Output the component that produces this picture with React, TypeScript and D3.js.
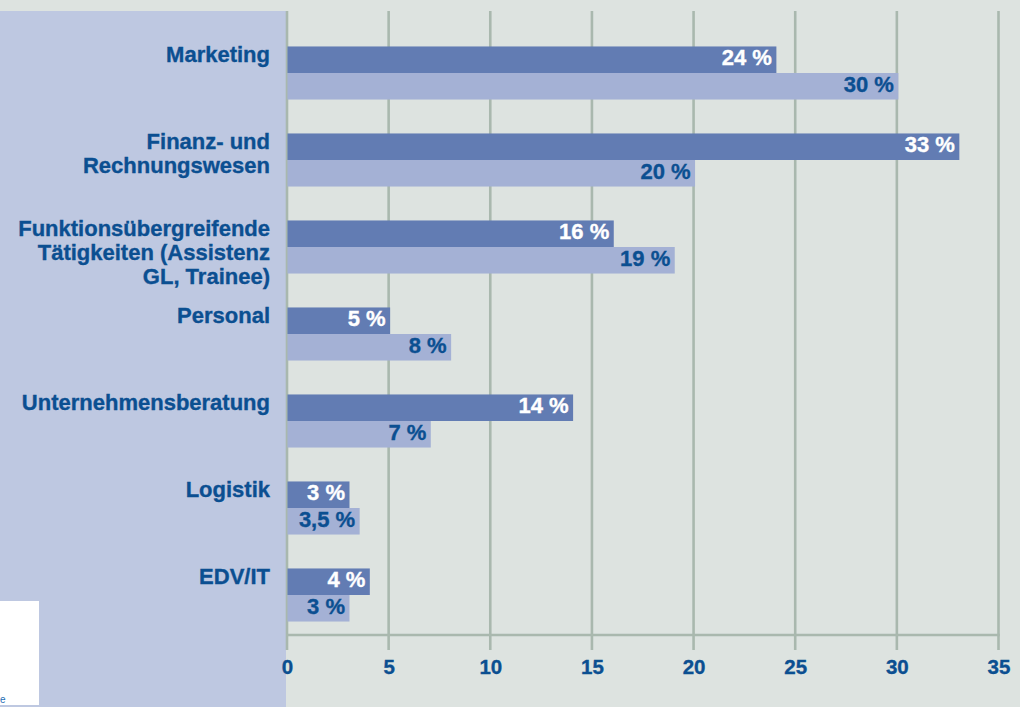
import React, { useEffect, useRef } from "react";
import * as d3 from "d3";

const categories = [
  ["Marketing"],
  ["Finanz- und", "Rechnungswesen"],
  ["Funktionsübergreifende", "Tätigkeiten (Assistenz", "GL, Trainee)"],
  ["Personal"],
  ["Unternehmensberatung"],
  ["Logistik"],
  ["EDV/IT"],
];
const seriesA = [24, 33, 16, 5, 14, 3, 4];
const seriesB = [30, 20, 19, 8, 7, 3.5, 3];
const xTicks = [0, 5, 10, 15, 20, 25, 30, 35];

const App = () => {
  const svgRef = useRef(null);

  useEffect(() => {
    const width = 1020;
    const height = 707;
    const textColor = "#0b4f91";
    const gridColor = "#a9b8ae";
    const font = "'Liberation Sans', Arial, sans-serif";

    const svg = d3.select(svgRef.current).attr("width", width).attr("height", height);
    svg.selectAll("*").remove();

    const x = d3.scaleLinear().domain([0, 35]).range([287.5, 999]);
    const keys = categories.map((c) => c.join(" "));
    const y = d3.scaleBand().domain(keys).range([29.5, 638.5]).paddingInner(0.39).paddingOuter(0.195);
    const inner = d3.scaleBand().domain(["a", "b"]).range([0, y.bandwidth()]);

    svg.append("rect").attr("width", width).attr("height", height).attr("fill", "#dde3e0");
    svg.append("rect").attr("x", 0).attr("y", 11).attr("width", 286).attr("height", height - 11).attr("fill", "#bec8e1");
    svg.append("rect").attr("x", 0).attr("y", 601).attr("width", 39).attr("height", 104).attr("fill", "#ffffff");
    svg
      .append("text")
      .attr("x", 0)
      .attr("y", 703)
      .attr("fill", "#1f6fb5")
      .style("font-family", font)
      .style("font-size", "10px")
      .text("e");

    // gridlines + ticks
    svg
      .selectAll(".grid")
      .data(xTicks)
      .join("line")
      .attr("x1", (d) => x(d) - 0.5)
      .attr("x2", (d) => x(d) - 0.5)
      .attr("y1", 11)
      .attr("y2", 650)
      .attr("stroke", gridColor)
      .attr("stroke-width", 2.6);

    svg
      .append("line")
      .attr("x1", x(0) - 1.5)
      .attr("x2", x(35) + 0.8)
      .attr("y1", 635)
      .attr("y2", 635)
      .attr("stroke", gridColor)
      .attr("stroke-width", 2.6);

    svg
      .selectAll(".tick")
      .data(xTicks)
      .join("text")
      .attr("x", (d) => x(d))
      .attr("y", 674)
      .attr("text-anchor", "middle")
      .attr("fill", textColor)
      .attr("stroke", textColor)
      .attr("stroke-width", 0.35)
      .style("font-family", font)
      .style("font-size", "20.5px")
      .style("font-weight", "bold")
      .text((d) => d);

    const rows = categories.map((c, i) => ({ key: keys[i], lines: c, a: seriesA[i], b: seriesB[i] }));
    const fmt = (v) => String(v).replace(".", ",") + " %";

    const g = svg
      .selectAll(".row")
      .data(rows)
      .join("g")
      .attr("transform", (d) => `translate(0,${y(d.key)})`);

    g.append("rect")
      .attr("x", x(0))
      .attr("y", inner("a"))
      .attr("width", (d) => x(d.a) - x(0) + 1)
      .attr("height", inner.bandwidth())
      .attr("fill", "#627cb3");

    g.append("rect")
      .attr("x", x(0))
      .attr("y", inner("b"))
      .attr("width", (d) => x(d.b) - x(0) + 1)
      .attr("height", inner.bandwidth())
      .attr("fill", "#a4b1d5");

    g.append("text")
      .attr("x", (d) => x(d.a) - 3.5)
      .attr("y", inner("a") + 19)
      .attr("text-anchor", "end")
      .attr("fill", "#ffffff")
      .attr("stroke", "#ffffff")
      .attr("stroke-width", 0.35)
      .style("font-family", font)
      .style("font-size", "22px")
      .style("font-weight", "bold")
      .text((d) => fmt(d.a));

    g.append("text")
      .attr("x", (d) => x(d.b) - 3.5)
      .attr("y", inner("b") + 19.5)
      .attr("text-anchor", "end")
      .attr("fill", textColor)
      .attr("stroke", textColor)
      .attr("stroke-width", 0.35)
      .style("font-family", font)
      .style("font-size", "22px")
      .style("font-weight", "bold")
      .text((d) => fmt(d.b));

    // category labels
    g.append("text")
      .attr("text-anchor", "end")
      .attr("fill", textColor)
      .attr("stroke", textColor)
      .attr("stroke-width", 0.35)
      .style("font-family", font)
      .style("font-size", "22px")
      .style("font-weight", "bold")
      .selectAll("tspan")
      .data((d) => d.lines)
      .join("tspan")
      .attr("x", 270)
      .attr("y", (d, i) => 15.5 + i * 24)
      .text((d) => d);
  }, []);

  return <svg ref={svgRef} style={{ position: "absolute", left: 0, top: 0 }}></svg>;
};

export default App;
